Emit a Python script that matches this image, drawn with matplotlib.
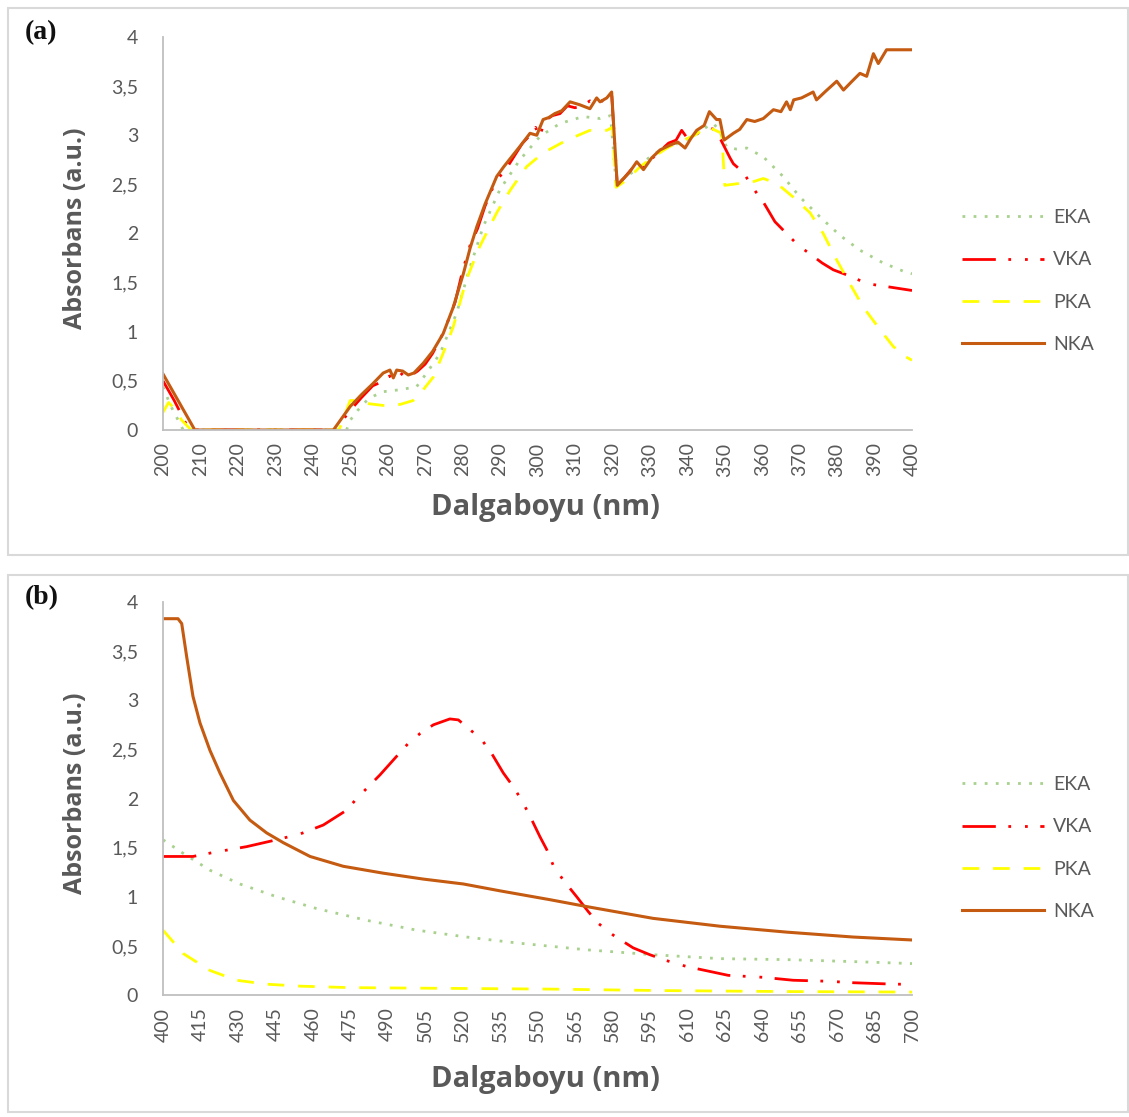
import matplotlib
matplotlib.use("Agg")
import matplotlib.pyplot as plt
from matplotlib.patches import Rectangle
from matplotlib.ticker import FuncFormatter, MultipleLocator, FixedLocator

# panel (a): 200-400 nm
wl_nka_a = [200, 208.5, 245.5, 250, 253, 256, 258.8, 260.6, 261.5, 262.4, 264, 265.5, 267, 269.5,
            272, 274.8, 277.5, 280.2, 282, 283.8, 286, 289.1, 291, 293.5, 296, 298, 299.8, 301.5,
            303, 304.6, 306.5, 308.7, 311.3, 314, 315.8, 316.7, 318.5, 319.8, 321.3, 322.5, 324.5,
            326.5, 328.3, 330.5, 332.7, 335.4, 337.5, 339.4, 341, 342.5, 344.5, 345.9, 347.8, 348.7,
            349.8, 352.3, 354, 355.9, 358, 360.3, 363, 365, 366.5, 367.5, 368.4, 370.5, 373.6, 374.5,
            377, 379.9, 381.7, 384, 386.1, 387.9, 389.7, 391, 393.2, 400]
abs_nka_a = [0.57, 0, 0, 0.24, 0.36, 0.47, 0.58, 0.61, 0.53, 0.61, 0.6, 0.56, 0.58, 0.68,
             0.8, 0.98, 1.25, 1.59, 1.85, 2.07, 2.3, 2.58, 2.68, 2.80, 2.92, 3.02, 3.0, 3.16,
             3.18, 3.22, 3.25, 3.34, 3.31, 3.27, 3.38, 3.34, 3.38, 3.44, 2.49, 2.54, 2.62,
             2.73, 2.65, 2.77, 2.85, 2.90, 2.93, 2.87, 2.97, 3.05, 3.1, 3.24, 3.16, 3.16,
             2.95, 3.02, 3.06, 3.16, 3.14, 3.17, 3.26, 3.24, 3.34, 3.26, 3.36, 3.38, 3.44, 3.36,
             3.45, 3.55, 3.46, 3.55, 3.63, 3.60, 3.83, 3.73, 3.87, 3.87]

wl_vka_a = [200, 203, 207, 246.5, 248, 250, 253, 256, 259, 260.5, 262, 264, 266, 268, 270, 272,
            275, 278, 280, 282, 284, 286, 289, 291, 294, 296, 298, 299.5, 300.5, 302, 304, 306,
            308, 310, 312, 314, 316, 318, 319.8, 321.3, 323, 325, 327, 329, 331, 333, 335, 337,
            338.5, 340, 342, 344, 346, 347.5, 349, 351.4, 352.3, 355, 357.6, 360.3, 363.4, 366.5,
            369.6, 373.2, 376, 379, 383.9, 387.9, 393.2, 400]
abs_vka_a = [0.50, 0.3, 0, 0, 0.1, 0.2, 0.33, 0.45, 0.5, 0.55, 0.5, 0.58, 0.55, 0.6, 0.67, 0.78,
             1.0, 1.3, 1.62, 1.88, 2.05, 2.28, 2.55, 2.62, 2.8, 2.92, 3.0, 3.08, 2.98, 3.15, 3.2, 3.22,
             3.3, 3.28, 3.3, 3.35, 3.3, 3.38, 3.42, 2.49, 2.56, 2.65, 2.7, 2.66, 2.78, 2.85, 2.92, 2.95,
             3.05, 2.97, 3.0, 3.05, 3.08, 3.05, 2.95, 2.77, 2.71, 2.62, 2.46, 2.32, 2.12, 2.0,
             1.88, 1.78, 1.70, 1.63, 1.56, 1.49, 1.46, 1.42]

wl_eka_a = [200, 202, 205.4, 249, 250, 252, 254.4, 256.5, 258.8, 263.3, 267.7, 270.4, 274, 278.4,
            282, 285.5, 290, 295.3, 300.7, 306, 312.2, 316.7, 319.5, 321, 323, 326, 330, 334, 338,
            342, 345, 347, 348.5, 350.5, 353, 355.9, 360.3, 365.6, 370.1, 375.4, 380.8, 386.1,
            392.3, 398.1, 400]
abs_eka_a = [0.44, 0.25, 0, 0, 0.1, 0.2, 0.3, 0.35, 0.39, 0.41, 0.44, 0.58, 0.78, 1.19,
             1.66, 2.07, 2.45, 2.75, 2.99, 3.12, 3.19, 3.17, 3.2, 2.5, 2.56, 2.64, 2.78, 2.88, 2.92,
             3.0, 3.08, 3.12, 3.05, 2.88, 2.86, 2.87, 2.78, 2.58, 2.37, 2.17, 1.98, 1.83,
             1.70, 1.61, 1.59]

wl_pka_a = [200, 201.5, 203, 205, 207.5, 247, 248.5, 250, 251.7, 254.4, 258.8, 263.3, 266.8, 269.5,
            272.2, 274.8, 277.5, 281, 284.6, 289.1, 292.7, 297.1, 301.5, 307.8, 314, 318.5, 320, 321,
            324, 327.4, 331, 335, 339, 342, 345.2, 349.2, 350, 354, 357, 360.3, 363.9, 368.3,
            372.8, 376.3, 379.9, 383.4, 387, 391.5, 395, 398.1, 400]
abs_pka_a = [0.18, 0.28, 0.22, 0.1, 0, 0, 0.15, 0.3, 0.3, 0.27, 0.25, 0.26, 0.3, 0.41,
             0.54, 0.78, 1.05, 1.53, 1.87, 2.21, 2.44, 2.68, 2.82, 2.95, 3.05, 3.05, 3.08, 2.47,
             2.55, 2.68, 2.78, 2.88, 2.95, 3.0, 3.09, 3.02, 2.49, 2.51, 2.52, 2.56, 2.51, 2.37,
             2.21, 2.0, 1.73, 1.49, 1.25, 1.02, 0.85, 0.75, 0.71]

# panel (b): 400-700 nm
wl_nka_b = [400, 406, 407.5, 409.5, 412, 414.8, 418.8, 422.8, 428.2, 434.8, 441.5, 448.2, 458.9,
            472.2, 488.2, 504.2, 520.3, 535, 555, 569.7, 596.3, 623.1, 649.8, 676.4, 700]
abs_nka_b = [3.83, 3.83, 3.78, 3.44, 3.04, 2.77, 2.49, 2.26, 1.98, 1.78, 1.65, 1.55, 1.41,
             1.31, 1.24, 1.18, 1.13, 1.06, 0.97, 0.90, 0.78, 0.70, 0.64, 0.59, 0.56]

wl_vka_b = [400, 412, 420, 433.5, 445.5, 455, 464.2, 473.5, 477.6, 486.9, 493.6, 498.2, 502.9,
            508.3, 514.9, 518.3, 523, 527.6, 531.6, 536.3, 540.3, 543.7, 547, 551, 553.7, 556.3,
            560.3, 565.7, 570.3, 574.3, 580.3, 588.3, 595, 601.7, 609.7, 619, 626.4, 640.4, 652.4,
            666.4, 676.4, 693.2, 700]
abs_vka_b = [1.41, 1.41, 1.45, 1.51, 1.58, 1.64, 1.73, 1.88, 2.0, 2.24, 2.43, 2.56, 2.66,
             2.75, 2.81, 2.8, 2.70, 2.6, 2.46, 2.26, 2.12, 1.98, 1.82, 1.61, 1.48, 1.32,
             1.17, 1.0, 0.85, 0.73, 0.61, 0.48, 0.41, 0.35, 0.29, 0.24, 0.20, 0.18, 0.15,
             0.14, 0.125, 0.11, 0.11]

wl_eka_b = [400, 408.2, 418.8, 430.8, 445.5, 461.5, 481.6, 501.6, 521.6, 541.6, 569.7, 596.3,
            623.1, 649.8, 676.4, 700]
abs_eka_b = [1.58, 1.44, 1.27, 1.13, 1.0, 0.88, 0.76, 0.66, 0.59, 0.53, 0.46, 0.41,
             0.37, 0.36, 0.34, 0.32]

wl_pka_b = [400, 408.2, 418.8, 429.5, 441.5, 455, 475, 501.6, 528, 555, 600, 650, 700]
abs_pka_b = [0.66, 0.42, 0.25, 0.15, 0.11, 0.09, 0.075, 0.07, 0.065, 0.06, 0.045, 0.035, 0.03]

labels = ["EKA", "VKA", "PKA", "NKA"]
colors = ["#A9D18E", "#FF0000", "#FFFF00", "#C55A11"]
styles = [(0, (1, 3)), (0, (12, 4.5, 1, 5, 1, 4.5)), (0, (6, 5)), "-"]
widths = [2.0, 2.0, 2.0, 2.2]

TXT = "#595959"
W, H = 1129, 1117

fig = plt.figure(figsize=(W / 100, H / 100), dpi=100)


def fx(px):
    return px / W


def fy(py):
    return 1 - py / H


# panel frames
for top, bot in [(8, 555), (575, 1112)]:
    fig.patches.append(Rectangle((fx(8), fy(bot)), fx(1128) - fx(8), fy(top) - fy(bot),
                                 transform=fig.transFigure, fill=False,
                                 edgecolor="#D9D9D9", linewidth=1.5))

panels = [
    dict(top=37, bot=430, xlim=(200, 400), ticks=list(range(200, 401, 10)), tag="(a)",
         data=[(wl_eka_a, abs_eka_a), (wl_vka_a, abs_vka_a), (wl_pka_a, abs_pka_a), (wl_nka_a, abs_nka_a)],
         leg_y=281, xlab_y=508),
    dict(top=602, bot=995, xlim=(400, 700), ticks=list(range(400, 701, 15)), tag="(b)",
         data=[(wl_eka_b, abs_eka_b), (wl_vka_b, abs_vka_b), (wl_pka_b, abs_pka_b), (wl_nka_b, abs_nka_b)],
         leg_y=848, xlab_y=1080),
]

comma = FuncFormatter(lambda v, p: f"{v:g}".replace(".", ","))

for p in panels:
    ax = fig.add_axes([fx(163), fy(p["bot"]), fx(912) - fx(163), fy(p["top"]) - fy(p["bot"])])
    for (x, y), lab, c, ls, lw in zip(p["data"], labels, colors, styles, widths):
        ax.plot(x, y, color=c, linestyle=ls, linewidth=lw, label=lab)
    ax.set_xlim(*p["xlim"])
    ax.set_ylim(0, 4)
    ax.xaxis.set_major_locator(FixedLocator(p["ticks"]))
    ax.yaxis.set_major_locator(MultipleLocator(0.5))
    ax.yaxis.set_major_formatter(comma)
    for s in ["top", "right"]:
        ax.spines[s].set_visible(False)
    for s in ["left", "bottom"]:
        ax.spines[s].set_color("#BFBFBF")
        ax.spines[s].set_linewidth(1.3)
    ax.tick_params(axis="y", length=0, pad=18, labelsize=14, labelcolor=TXT)
    ax.tick_params(axis="x", length=0, pad=9, labelsize=14, labelcolor=TXT, labelrotation=90)
    for t in ax.get_xticklabels() + ax.get_yticklabels():
        t.set_fontfamily("Lato")

    fig.text(fx(75), fy((p["top"] + p["bot"]) / 2 - 5), "Absorbans (a.u.)", rotation=90,
             ha="center", va="center", fontsize=18, fontweight="bold", color=TXT,
             family="Open Sans")
    fig.text(fx(545), fy(p["xlab_y"]), "Dalgaboyu (nm)", ha="center", va="center",
             fontsize=21, fontweight="bold", color=TXT, family="Open Sans")
    fig.text(fx(25), fy(p["top"] - 4), p["tag"], ha="left", va="center", fontsize=20,
             fontweight="bold", color="#111111", family="Liberation Serif")

    ax.legend(loc="center left", bbox_to_anchor=(fx(962), fy(p["leg_y"])),
              bbox_transform=fig.transFigure, frameon=False, borderpad=0, borderaxespad=0,
              handlelength=4.2, handletextpad=0.5, labelspacing=1.3,
              prop={"family": "Lato", "size": 14}, labelcolor=TXT)

fig.savefig("out.png", dpi=100)
